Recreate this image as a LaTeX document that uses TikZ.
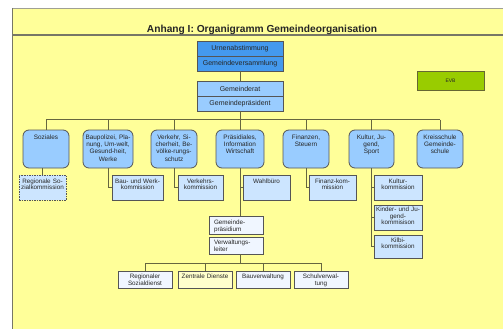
\documentclass[tikz,border=0pt]{standalone}
\usepackage{fontspec}
\setmainfont{Liberation Sans}
\definecolor{bgyellow}{HTML}{FFFF99}
\definecolor{topblue}{HTML}{4499EE}
\definecolor{midblue}{HTML}{99CCFF}
\definecolor{lightblue}{HTML}{CCE5FF}
\definecolor{paleblue}{HTML}{F0F6FF}
\definecolor{paleyellow}{HTML}{FFFFCC}
\definecolor{evbgreen}{HTML}{99CC00}
\definecolor{evbedge}{HTML}{666633}
\definecolor{edge}{HTML}{555555}
\definecolor{conn}{HTML}{66663F}
\definecolor{frame}{HTML}{777766}
\begin{document}
\begin{tikzpicture}[x=1pt,y=-1pt,
  box/.style={draw=edge, line width=0.8pt, inner sep=0pt, text=black!85},
  topbox/.style={box, fill=topblue, minimum width=86pt, minimum height=15pt, font=\fontsize{7}{8}\selectfont},
  grbox/.style={topbox, fill=midblue},
  lvtwo/.style={box, fill=midblue, rounded corners=6pt, text width=#1, align=center,
    font=\fontsize{6.4}{7.2}\selectfont, text height=9.5pt, text depth=28.5pt},
  lvtwo/.default=46pt,
  lvthree/.style={box, fill=lightblue, text width=#1, align=center,
    font=\fontsize{6.3}{6.7}\selectfont, text height=8pt, text depth=17pt},
  lvthree/.default=47pt,
  adminbox/.style={box, fill=paleblue, text width=44pt, inner xsep=5pt, align=left,
    font=\fontsize{6.3}{6.7}\selectfont},
  lowbox/.style={box, fill=paleblue, text width=54pt, align=center,
    font=\fontsize{6.3}{6.7}\selectfont, text height=7.5pt, text depth=9.5pt},
  connector/.style={draw=conn, line width=0.9pt}
]
\useasboundingbox (0,0) rectangle (503,329);
% background
\fill[bgyellow] (12,8) rectangle (503,329);
\draw[frame!70, line width=0.8pt] (503,8) -- (12,8);
\draw[frame, line width=0.9pt] (12,8) -- (12,329);
\draw[frame, line width=1.1pt] (12,35) -- (503,35);
\node[anchor=base, font=\fontsize{10.2}{12}\selectfont\bfseries, text=black!85, inner sep=0pt] (title) at (262,33) {Anhang I: Organigramm Gemeindeorganisation};

% top
\node[topbox] (urn) at (240,48.5) {Urnenabstimmung};
\node[topbox] (gv) at (240,63.5) {Gemeindeversammlung};
\node[grbox] (gr) at (240,88.5) {Gemeinderat};
\node[grbox] (gp) at (240,103.5) {Gemeindepräsident};

\node[box, fill=evbgreen, draw=evbedge, minimum width=67pt, minimum height=19pt, font=\fontsize{5}{6}\selectfont] (evb) at (450.5,80.5) {EVB};

% level 2
\coordinate (bus) at (240,119.5);
\node[lvtwo] (soz) at (46,149) {Soziales};
\node[lvtwo=50pt] (bau) at (108,149) {Baupolizei, Pla-\\nung, Um-welt,\\Gesund-heit,\\Werke};
\node[lvtwo] (verk) at (174,149) {Verkehr, Si-\\cherheit, Be-\\völke-rungs-\\schutz};
\node[lvtwo=48pt] (pra) at (240,149) {Präsidiales,\\Information\\Wirtschaft};
\node[lvtwo] (fin) at (306,149) {Finanzen,\\Steuern};
\node[lvtwo=45pt] (kul) at (371.5,149) {Kultur, Ju-\\gend,\\Sport};
\node[lvtwo] (kreis) at (440,149) {Kreisschule\\Gemeinde-\\schule};

% level 3
\node[lvthree, dash pattern=on 1.5pt off 1pt] (regsoz) at (42.5,187.5) {Regionale So-\\zialkommission};
\node[lvthree=51pt] (bauk) at (137.5,187.5) {Bau- und Werk-\\kommission};
\node[lvthree=45pt] (verkk) at (200.5,187.5) {Verkehrs-\\kommission};
\node[lvthree] (wahl) at (266.5,187.5) {Wahlbüro};
\node[lvthree] (fink) at (332.5,187.5) {Finanz-kom-\\mission};
\node[lvthree=48pt] (kulk) at (398,187.5) {Kultur-\\kommission};
\node[lvthree=48pt, text height=6.5pt, text depth=18.5pt] (kind) at (398,217.5) {Kinder- und Ju-\\gend-\\kommisison};
\node[lvthree=48pt, text height=7pt, text depth=16pt] (kilbi) at (398,246.5) {Kilbi-\\kommission};

% administration
\node[adminbox, text height=8.3pt, text depth=9.7pt] (gpr) at (236,225) {Gemeinde-\\präsidium};
\node[adminbox, text height=7.8pt, text depth=9.2pt] (vl) at (236,245.5) {Verwaltungs-\\leiter};

\coordinate (bustwo) at (240,263);
\node[lowbox] (rsd) at (145,279.5) {Regionaler\\Sozialdienst};
\node[lowbox, fill=paleyellow] (zd) at (205,279.5) {Zentrale Dienste};
\node[lowbox] (bv) at (263,279.5) {Bauverwaltung};
\node[lowbox] (sv) at (321,279.5) {Schulverwal-\\tung};

% connectors
\draw[connector] (gv.south) -- (gr.north);
\draw[connector] (gp.south) -- (bus);
\draw[connector] (soz.north |- bus) -- (kreis.north |- bus);
\foreach \n in {soz,bau,verk,pra,fin,kul,kreis}
  \draw[connector] (\n.north |- bus) -- (\n.north);
\draw[connector] (regsoz.north |- soz.south) -- (regsoz.north);
\draw[connector] (bau.south) |- (bauk.west);
\draw[connector] (verk.south) |- (verkk.west);
\draw[connector] (pra.south) -- (pra.south |- gpr.north);
\draw[connector] (pra.south |- wahl.west) -- (wahl.west);
\draw[connector] (fin.south) |- (fink.west);
\draw[connector] (kul.south) |- (kilbi.west);
\draw[connector] (kul.south |- kulk.west) -- (kulk.west);
\draw[connector] (kul.south |- kind.west) -- (kind.west);
\draw[connector] (pra.south |- vl.south) -- (bustwo);
\draw[connector] (rsd.north |- bustwo) -- (sv.north |- bustwo);
\foreach \n in {rsd,zd,bv,sv}
  \draw[connector] (\n.north |- bustwo) -- (\n.north);
\end{tikzpicture}
\end{document}
